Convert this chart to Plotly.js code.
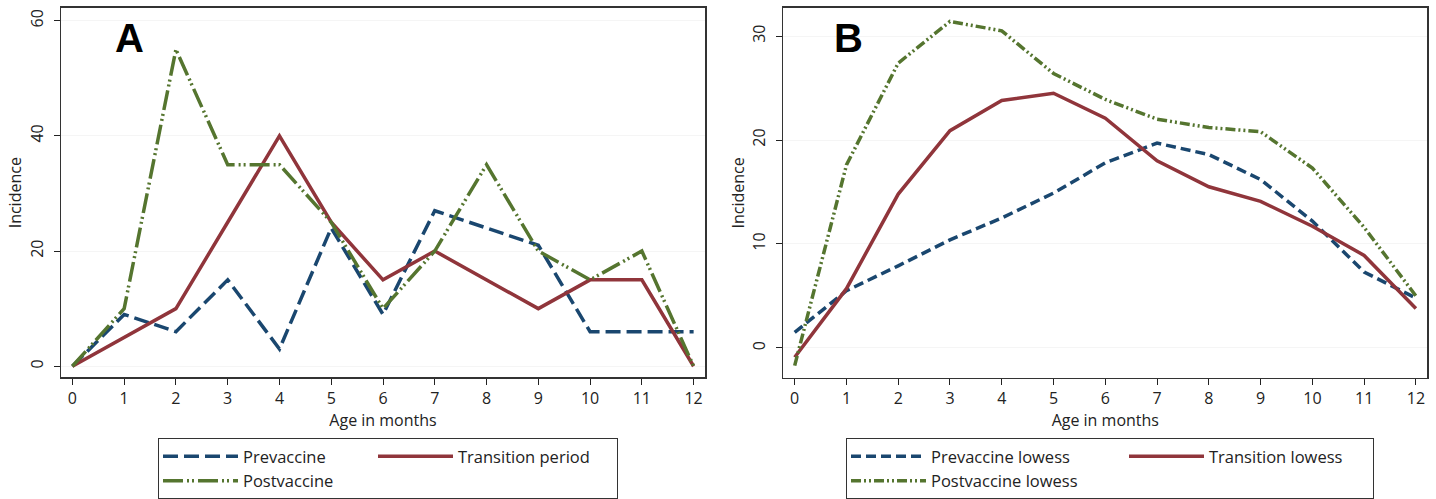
<!DOCTYPE html>
<html><head><meta charset="utf-8">
<script src="https://cdn.plot.ly/plotly-3.0.1.min.js"></script>
<style>html,body{margin:0;padding:0;background:#fff}#chart{width:1436px;height:499px}</style>
</head><body><div id="chart"></div>
<script>
const months = [0,1,2,3,4,5,6,7,8,9,10,11,12];
const prevA  = [0,9,6,15,3,24,9,27,24,21,6,6,6];
const transA = [0,5,10,25,40,25,15,20,15,10,15,15,0];
const postA  = [0,10,55,35,35,25,10,20,35,20,15,20,0];
const prevB  = [1.5,5.5,7.9,10.4,12.5,14.9,17.8,19.7,18.6,16.2,12.2,7.3,4.8];
const transB = [-0.9,5.7,14.8,20.9,23.8,24.5,22.1,18.0,15.5,14.1,11.7,8.9,3.8];
const postB  = [-1.7,17.6,27.4,31.4,30.5,26.4,23.9,22.0,21.2,20.8,17.3,11.6,5.0];
const yTicksA = [0,20,40,60];
const yTicksB = [0,10,20,30];

const NAVY='#1a476f', MAROON='#90353b', GREEN='#55752f';
const W=1436, H=499;
const px = v => v/W, py = v => 1 - v/H;
const FONT = 'Open Sans, sans-serif';

const traces = [
  {x:months, y:prevA, name:'Prevaccine', mode:'lines', xaxis:'x', yaxis:'y', legend:'legend', legendgroup:'a1', legendwidth:125,
   line:{color:NAVY, width:3.5, dash:'15px,6px'}},
  {x:months, y:transA, name:'Transition period', mode:'lines', xaxis:'x', yaxis:'y', legend:'legend', legendgroup:'b1', legendwidth:154,
   line:{color:MAROON, width:3.5}},
  {x:months, y:postA, name:'Postvaccine', mode:'lines', xaxis:'x', yaxis:'y', legend:'legend', legendgroup:'a1', legendwidth:125,
   line:{color:GREEN, width:3.5, dash:'20px,4px,2px,3px,2px,4px'}},
  {x:months, y:prevB, name:'Prevaccine lowess', mode:'lines', xaxis:'x2', yaxis:'y2', legend:'legend2', legendgroup:'a2', legendwidth:188,
   line:{color:NAVY, width:3.5, dash:'10px,5px'}},
  {x:months, y:transB, name:'Transition lowess', mode:'lines', xaxis:'x2', yaxis:'y2', legend:'legend2', legendgroup:'b2', legendwidth:159,
   line:{color:MAROON, width:3.5}},
  {x:months, y:postB, name:'Postvaccine lowess', mode:'lines', xaxis:'x2', yaxis:'y2', legend:'legend2', legendgroup:'a2', legendwidth:188,
   line:{color:GREEN, width:3.5, dash:'10px,3px,2px,3px,2px,3px'}}
];

const xCommon = {
  range:[-0.22,12.22], tickmode:'array', tickvals:months, ticktext:months.map(String),
  ticks:'outside', ticklen:6, tickcolor:'#222', showline:true, mirror:true, linecolor:'#333', linewidth:1.5,
  showgrid:false, zeroline:false, automargin:false, tickfont:{family:FONT, size:16, color:'#222'},
  title:{text:'Age in months', font:{family:FONT, size:16, color:'#222'}, standoff:1}
};
const yCommon = {
  ticks:'outside', ticklen:6, tickcolor:'#222', showline:true, mirror:true, linecolor:'#333', linewidth:1.5,
  showgrid:true, gridcolor:'#f5f5f5', zeroline:false, automargin:false, tickangle:-90, ticklabelstandoff:4,
  tickfont:{family:FONT, size:16, color:'#222'},
  title:{text:'Incidence', font:{family:FONT, size:16, color:'#222'}, standoff:0}
};

const legCommon = {
  orientation:'h', traceorder:'grouped', tracegroupgap:0, itemwidth:75,
  bgcolor:'#fff', bordercolor:'#333', borderwidth:1, xanchor:'left', yanchor:'top',
  font:{family:FONT, size:16.5, color:'#222'}
};

const layout = {
  width:W, height:H, margin:{l:0,r:0,t:0,b:0}, paper_bgcolor:'#fff', plot_bgcolor:'#fff',
  showlegend:true,
  xaxis: Object.assign({}, xCommon, {domain:[px(61), px(705)], anchor:'y'}),
  yaxis: Object.assign({}, yCommon, {domain:[py(379), py(8)], range:[-1.95,62.2], tickvals:yTicksA, tickmode:'array', anchor:'x'}),
  xaxis2: Object.assign({}, xCommon, {domain:[px(783.3), px(1427.3)], anchor:'y2'}),
  yaxis2: Object.assign({}, yCommon, {domain:[py(379.3), py(8)], range:[-2.87,32.7], tickvals:yTicksB, tickmode:'array', anchor:'x2'}),
  legend: Object.assign({}, legCommon, {x:px(158), y:py(440)}),
  legend2: Object.assign({}, legCommon, {x:px(846), y:py(440)}),
  annotations:[
    {text:'<b>A</b>', xref:'paper', yref:'paper', x:px(129), y:py(38), showarrow:false, xanchor:'center', yanchor:'middle',
     font:{family:'Liberation Sans, Arial, sans-serif', size:40, color:'#000'}},
    {text:'<b>B</b>', xref:'paper', yref:'paper', x:px(848), y:py(38), showarrow:false, xanchor:'center', yanchor:'middle',
     font:{family:'Liberation Sans, Arial, sans-serif', size:40, color:'#000'}}
  ]
};

Plotly.newPlot('chart', traces, layout, {displayModeBar:false, staticPlot:true});
</script></body></html>
